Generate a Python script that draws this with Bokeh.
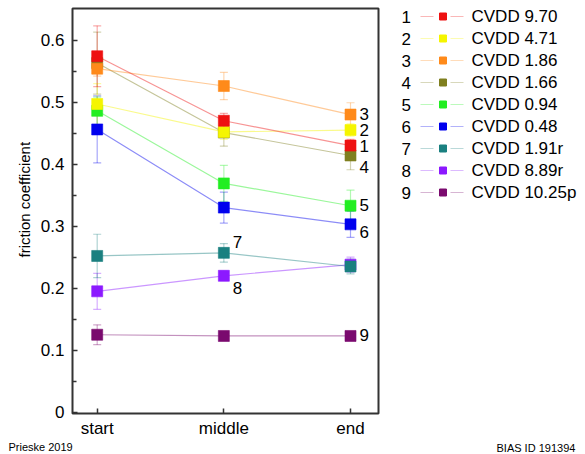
from bokeh.plotting import figure
from bokeh.layouts import row
from bokeh.models import (ColumnDataSource, FixedTicker, Whisker, TeeHead, Title, Range1d)
from bokeh.core.properties import value
from bokeh.embed import file_html
from bokeh.resources import INLINE

FONT = "Liberation Sans"

# ---------------- data ----------------
categories = ["start", "middle", "end"]
series_names = ["CVDD 9.70", "CVDD 4.71", "CVDD 1.86", "CVDD 1.66", "CVDD 0.94",
                "CVDD 0.48", "CVDD 1.91r", "CVDD 8.89r", "CVDD 10.25p"]
series_ids = ["1", "2", "3", "4", "5", "6", "7", "8", "9"]
colors = ["#ee1111", "#f5f500", "#ff8a1a", "#7f7f1f", "#22ee22",
          "#0000ee", "#1a8080", "#8c19ff", "#7a0a6e"]

s1 = [0.574, 0.470, 0.430]
s2 = [0.497, 0.452, 0.455]
s3 = [0.554, 0.526, 0.480]
s4 = [0.563, 0.451, 0.414]
s5 = [0.486, 0.369, 0.333]
s6 = [0.456, 0.330, 0.303]
s7 = [0.252, 0.257, 0.235]
s8 = [0.195, 0.220, 0.238]
s9 = [0.125, 0.123, 0.123]

e1 = [0.049, 0.012, 0.010]
e2 = [0.033, 0.012, 0.010]
e3 = [0.012, 0.022, 0.019]
e4 = [0.050, 0.022, 0.023]
e5 = [0.022, 0.029, 0.025]
e6 = [0.054, 0.025, 0.021]
e7 = [0.035, 0.015, 0.012]
e8 = [0.029, 0.008, 0.012]
e9 = [0.016, 0.005, 0.005]

values = [s1, s2, s3, s4, s5, s6, s7, s8, s9]
errors = [e1, e2, e3, e4, e5, e6, e7, e8, e9]

# numbered labels placed next to the curves: (text, category index, y)
point_labels = [("1", 2, 0.430), ("2", 2, 0.455), ("3", 2, 0.481), ("4", 2, 0.395),
                ("5", 2, 0.334), ("6", 2, 0.291), ("7", 1, 0.275), ("8", 1, 0.201),
                ("9", 2, 0.124)]

y_ticks = [0, 0.1, 0.2, 0.3, 0.4, 0.5, 0.6]
y_minor = [0.05, 0.15, 0.25, 0.35, 0.45, 0.55]

xs = [i + 1 for i in range(len(categories))]

# ---------------- main figure ----------------
p = figure(width=380, height=454, x_range=Range1d(0.805, 3.221), y_range=Range1d(-0.002, 0.651),
           output_backend="svg", toolbar_location=None,
           min_border_left=72, min_border_right=2, min_border_top=8, min_border_bottom=41)
p.frame_align = False
p.xgrid.visible = False
p.ygrid.visible = False
p.outline_line_color = "#333333"
p.outline_line_width = 2
p.background_fill_color = "white"
p.border_fill_color = "white"

p.xaxis.ticker = FixedTicker(ticks=xs)
p.xaxis.major_label_overrides = {x: c for x, c in zip(xs, categories)}
p.yaxis.ticker = FixedTicker(ticks=y_ticks, minor_ticks=y_minor)
p.yaxis.major_label_overrides = {t: ("0" if t == 0 else "%.1f" % t) for t in y_ticks}
for ax in (p.xaxis[0], p.yaxis[0]):
    ax.axis_line_color = None
    ax.major_tick_in = 5
    ax.major_tick_out = 0
    ax.minor_tick_in = 4
    ax.minor_tick_out = 0
    ax.major_tick_line_color = "#333333"
    ax.minor_tick_line_color = "#333333"
    ax.major_tick_line_width = 1.5
    ax.minor_tick_line_width = 1.5
    ax.major_label_text_font = FONT
    ax.major_label_text_font_size = "17px"
    ax.major_label_text_color = "black"
p.xaxis.minor_tick_line_color = None
p.xaxis.major_label_standoff = 5
p.yaxis.major_label_standoff = 8

# y axis title, placed on the left
ytitle = Title(text="friction coefficient", align="left", offset=156, standoff=8,
               vertical_align="middle", text_font=FONT, text_font_size="15px",
               text_font_style="normal", text_color="black")
p.add_layout(ytitle, "left")
# footer text
foot = Title(text="Prieske 2019", align="left", offset=-64, standoff=0,
             vertical_align="top", text_font=FONT, text_font_size="11px",
             text_font_style="normal", text_color="black")
p.add_layout(foot, "below")

order = [3, 8, 7, 6, 5, 4, 2, 1, 0]
for i in order:
    vals = values[i]
    errs = errors[i]
    src = ColumnDataSource(dict(x=xs, y=vals,
                                upper=[v + e for v, e in zip(vals, errs)],
                                lower=[v - e for v, e in zip(vals, errs)]))
    p.line("x", "y", source=src, line_color=colors[i], line_alpha=0.45, line_width=1.2)
    w = Whisker(base="x", upper="upper", lower="lower", source=src,
                line_color=colors[i], line_alpha=0.35, line_width=1.2,
                upper_head=TeeHead(size=8, line_color=colors[i], line_alpha=0.35, line_width=1.2),
                lower_head=TeeHead(size=8, line_color=colors[i], line_alpha=0.35, line_width=1.2))
    p.add_layout(w)
for i in order:
    p.scatter(xs, values[i], marker="square", size=11, fill_color=colors[i],
              line_color=colors[i], line_alpha=0.6)

lab_src = ColumnDataSource(dict(x=[xs[c] for _, c, _ in point_labels],
                                y=[y for _, _, y in point_labels],
                                t=[t for t, _, _ in point_labels]))
p.text("x", "y", text="t", source=lab_src, x_offset=9, text_baseline="middle",
       text_align="left", text_font=value(FONT), text_font_size="17px", text_color="black")

# ---------------- legend panel ----------------
q = figure(width=205, height=454, x_range=Range1d(0, 205), y_range=Range1d(454, 0),
           output_backend="svg", toolbar_location=None,
           min_border_left=0, min_border_right=0, min_border_top=0, min_border_bottom=0)
q.frame_align = False
q.axis.visible = False
q.xgrid.visible = False
q.ygrid.visible = False
q.outline_line_color = None

n = len(series_names)
row_y = [16 + 22 * k for k in range(n)]
q.segment([40] * n, row_y, [53] * n, row_y, line_color=colors, line_alpha=0.3, line_width=1.2)
q.segment([70] * n, row_y, [83] * n, row_y, line_color=colors, line_alpha=0.3, line_width=1.2)
q.scatter([62.5] * n, row_y, marker="square", size=7, fill_color=colors, line_color=colors)
q.text([21] * n, row_y, text=series_ids, text_baseline="middle", text_align="left",
       text_font=value(FONT), text_font_size="17px", text_color="black")
q.text([91] * n, row_y, text=series_names, text_baseline="middle", text_align="left",
       text_font=value(FONT), text_font_size="17px", text_color="black")
q.text([116], [441], text=["BIAS ID 191394"], text_baseline="top", text_align="left",
       text_font=value(FONT), text_font_size="11px", text_color="black")

layout = row(p, q, spacing=0)
open("out.html", "w").write(file_html(layout, INLINE))
